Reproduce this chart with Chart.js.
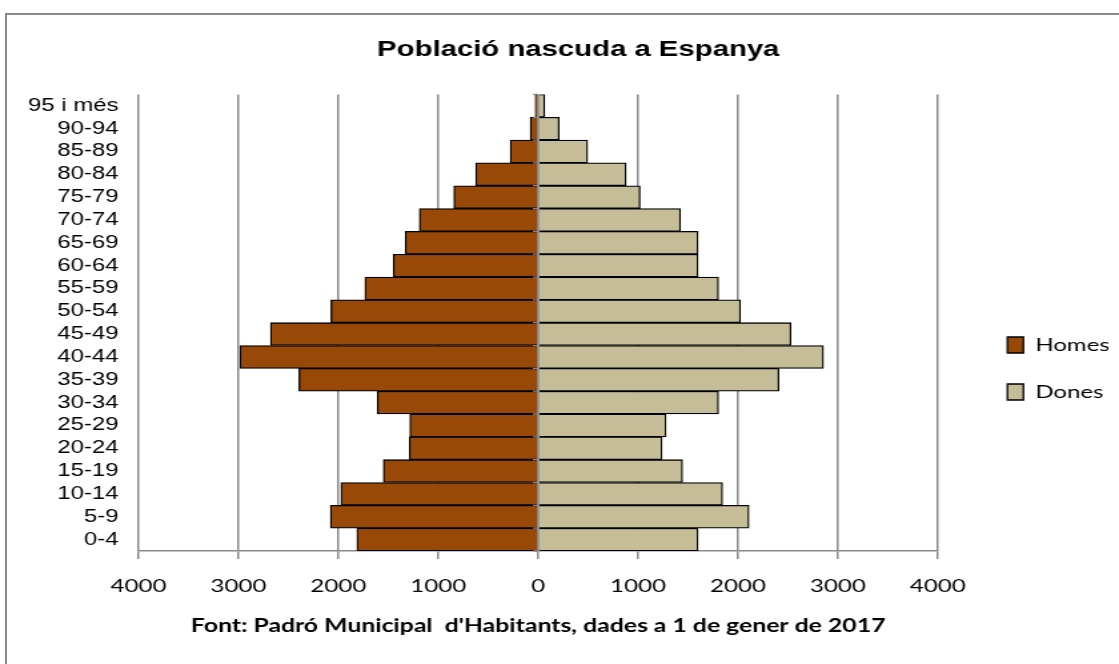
<!DOCTYPE html>
<html><head><meta charset="utf-8">
<script src="https://cdn.jsdelivr.net/npm/chart.js@4"></script>
<style>
html,body{margin:0;padding:0;overflow:hidden;background:#fff;width:1119px;height:664px;}
#frame{position:absolute;left:5px;top:13px;width:1200px;height:800px;border-top:2px solid #8a8a8a;border-left:2px solid #8a8a8a;}
#c{position:absolute;left:0;top:0;transform-origin:0 0;transform:scaleX(1.332143);}
</style></head><body>
<div id="frame"></div>
<canvas id="c" width="840" height="737"></canvas>
<script>
const ageGroups = ['0-4','5-9','10-14','15-19','20-24','25-29','30-34','35-39','40-44','45-49','50-54','55-59','60-64','65-69','70-74','75-79','80-84','85-89','90-94','95 i més'];
const homes = [1815, 2080, 1975, 1550, 1290, 1285, 1610, 2395, 2985, 2680, 2075, 1735, 1450, 1330, 1190, 845, 625, 280, 80, 30];
const dones = [1600, 2110, 1845, 1445, 1240, 1280, 1805, 2410, 2855, 2530, 2025, 1805, 1600, 1600, 1425, 1020, 880, 495, 210, 65];
const xMin = -4000, xMax = 4000, xStep = 1000;
const chartTitle = 'Població nascuda a Espanya';
const xTitle = "Font: Padró Municipal  d'Habitants, dades a 1 de gener de 2017";

const GRID = '#8a8a8a';
const PAD_L = 15, PAD_R = -13.2;
const LEGEND_LEFT = 727.2;

const zeroAxis = {
  id: 'zeroAxis',
  afterDatasetsDraw(chart) {
    const {ctx, chartArea, scales: {x, y}} = chart;
    const x0 = x.getPixelForValue(0);
    ctx.save();
    ctx.strokeStyle = GRID;
    ctx.lineWidth = 1.5;
    ctx.beginPath();
    ctx.moveTo(x0, chartArea.top);
    ctx.lineTo(x0, chartArea.bottom);
    ctx.stroke();
    ctx.lineWidth = 1.3;
    ctx.beginPath();
    for (let i = 0; i <= ageGroups.length; i++) {
      const py = y.getPixelForValue(i - 0.5);
      ctx.moveTo(x0 - 4, py);
      ctx.lineTo(x0, py);
    }
    ctx.stroke();
    ctx.restore();
  }
};

new Chart(document.getElementById('c'), {
  type: 'bar',
  data: {
    labels: ageGroups,
    datasets: [
      {label: 'Homes', data: homes.map(v => -v), backgroundColor: '#984807', borderColor: '#000', borderWidth: 1.3, borderSkipped: 'start', categoryPercentage: 1, barPercentage: 1},
      {label: 'Dones', data: dones, backgroundColor: '#C4BD97', borderColor: '#000', borderWidth: 1.3, borderSkipped: 'start', categoryPercentage: 1, barPercentage: 1}
    ]
  },
  options: {
    indexAxis: 'y',
    responsive: false,
    animation: false,
    devicePixelRatio: 1,
    layout: {padding: {left: PAD_L, right: PAD_R, top: 0, bottom: 0}},
    scales: {
      x: {
        stacked: true, min: xMin, max: xMax,
        ticks: {stepSize: xStep, callback: v => Math.abs(v), font: {family: 'Lato', size: 18}, color: '#000', padding: 16, maxRotation: 0},
        grid: {color: GRID, lineWidth: 1.5, tickLength: 8, tickColor: GRID, tickWidth: 1.5},
        border: {color: GRID, width: 1.5},
        title: {display: true, text: xTitle, font: {family: 'Lato', size: 18.6, weight: 'bold'}, color: '#000', padding: {top: 0, bottom: 100}},
        afterFit: s => { s.height = 737 - 551; }
      },
      y: {
        stacked: true, reverse: true,
        grid: {display: false, drawTicks: false}, border: {display: false},
        ticks: {autoSkip: false, font: {family: 'Liberation Sans', size: 18}, color: '#000', padding: 15},
        afterFit: s => { s.width = 104 - PAD_L; }
      },
      ySpace: {
        type: 'category', position: 'right', display: true,
        grid: {display: false, drawTicks: false}, border: {display: false}, ticks: {display: false},
        afterFit: s => { s.width = 23.2; }
      },
      yOuter: {
        type: 'category', position: 'right', display: true, weight: 2000,
        grid: {display: false, drawTicks: false}, border: {display: false}, ticks: {display: false},
        afterFit: s => {
          const lw = (s.chart.legend && s.chart.legend.width) ? s.chart.legend.width : 116;
          s.width = Math.max(0, (840 - PAD_R) - LEGEND_LEFT - lw);
        }
      }
    },
    plugins: {
      title: {display: true, text: chartTitle, font: {family: 'Liberation Sans', size: 22, weight: 'bold'}, color: '#000', padding: {top: 37, bottom: 31}},
      legend: {position: 'right', align: 'center', labels: {font: {family: 'Lato', size: 18}, color: '#000', boxWidth: 12, boxHeight: 16, padding: 29}},
      tooltip: {enabled: false}
    }
  },
  plugins: [zeroAxis]
});
</script>
</body></html>
